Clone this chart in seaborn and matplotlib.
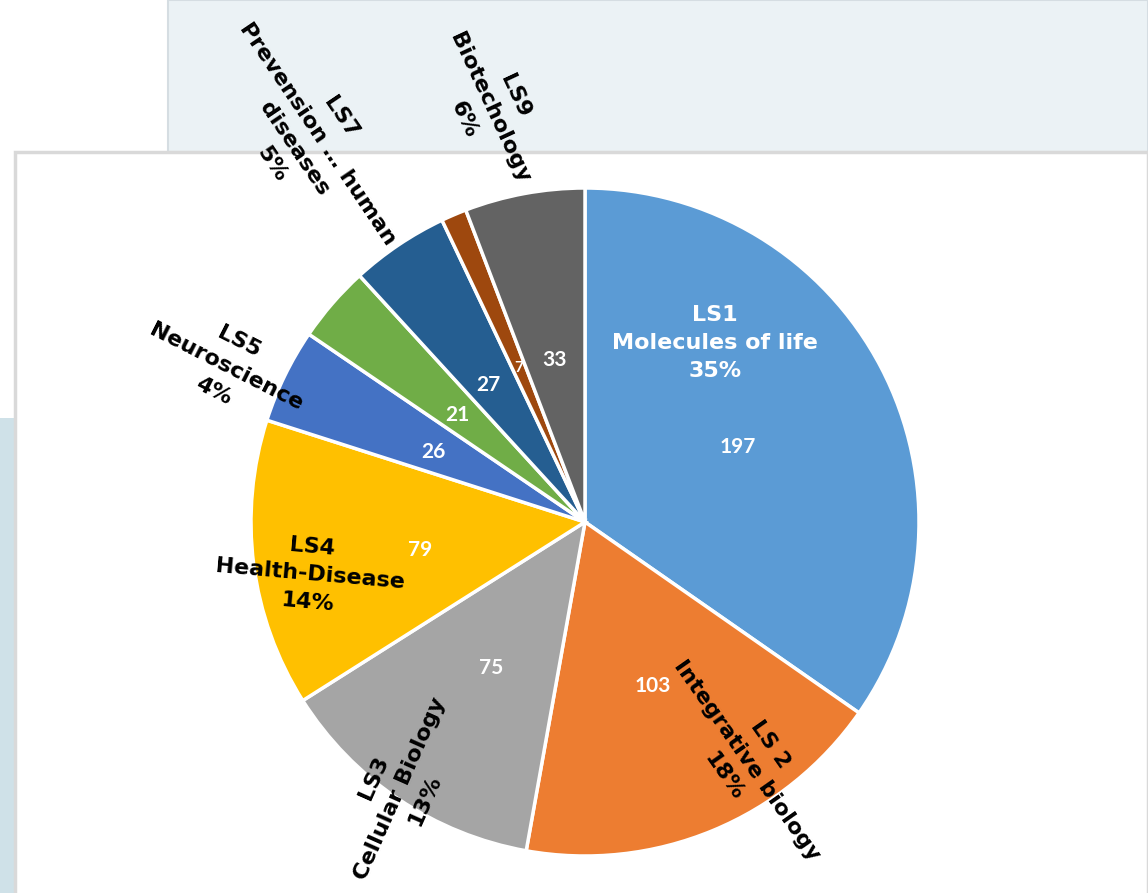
import numpy as np
import matplotlib
matplotlib.use('Agg')
import matplotlib.pyplot as plt
from matplotlib.patches import Rectangle
import seaborn as sns

# -----------------------------
# DATA
# -----------------------------
codes = ['LS1', 'LS 2', 'LS3', 'LS4', 'LS5', 'LS6', 'LS7', 'LS8', 'LS9']
names = ['Molecules of life', 'Integrative biology', 'Cellular Biology',
         'Health-Disease', 'Neuroscience', '', 'Prevension … human\ndiseases',
         '', 'Biotechology']
counts = [197, 103, 75, 79, 26, 21, 27, 7, 33]
pct_labels = ['35%', '18%', '13%', '14%', '4%', '', '5%', '', '6%']
colors = ['#5B9BD5', '#ED7D31', '#A5A5A5', '#FFC000', '#4472C4',
          '#70AD47', '#255E91', '#9E480E', '#636363']

# -----------------------------
# STYLE
# -----------------------------
sns.set_theme(style='white')
plt.rcParams['font.family'] = ['DejaVu Sans']

W, H = 1148, 893
cx, cy, R = 585, 522, 334   # pie centre / radius in pixels

fig = plt.figure(figsize=(W / 100, H / 100), dpi=100)
fig.patch.set_facecolor('white')

def px(x0, y0, w, h):
    # pixel box (top-left origin) -> figure fraction
    return (x0 / W, 1 - (y0 + h) / H), w / W, h / H

# background slide panels
(xy, w, h) = px(168, 0, W - 168, 152)
fig.patches.append(Rectangle(xy, w, h, transform=fig.transFigure, zorder=-3,
                             facecolor='#ebf2f5', edgecolor='#d5dde2', lw=1.5))
(xy, w, h) = px(0, 418, 16, H - 418)
fig.patches.append(Rectangle(xy, w, h, transform=fig.transFigure, zorder=-3,
                             facecolor='#cfe1e8', edgecolor='none'))
(xy, w, h) = px(15, 152, W - 15, H - 152 + 5)
fig.patches.append(Rectangle(xy, w, h, transform=fig.transFigure, zorder=-2,
                             facecolor='white', edgecolor='#d9d9d9', lw=2.5))

ax = fig.add_axes([0, 0, 1, 1])
ax.set_zorder(5)
ax.set_facecolor('none')
ax.patch.set_alpha(0)

wedges, _ = ax.pie(counts, colors=colors, startangle=90, counterclock=False,
                   radius=1.0,
                   wedgeprops=dict(edgecolor='white', linewidth=2.5))

ax.set_xlim(-cx / R, (W - cx) / R)
ax.set_ylim((cy - H) / R, cy / R)
ax.set_aspect('auto')
ax.axis('off')

# value labels (white) inside slices
val_pos = [(0.458, 0.225), (0.204, -0.491), (-0.281, -0.437), (-0.494, -0.084),
           (-0.455, 0.210), (-0.383, 0.320), (-0.290, 0.410), (-0.198, 0.461),
           (-0.090, 0.485)]
val_size = [15, 15, 15, 15, 15, 15, 15, 11, 15]
for v, (x, y), fs in zip(counts, val_pos, val_size):
    ax.text(x, y, str(v), color='white', fontsize=fs, fontweight='bold',
            family=['Lato', 'DejaVu Sans'], ha='center', va='center')

# category labels
cat_pos = {
    0: ((0.389, 0.535), 0, 'white'),
    1: ((0.485, -0.715), -55, 'black'),
    2: ((-0.555, -0.800), 66, 'black'),
    3: ((-0.823, -0.158), -5, 'black'),
    4: ((-1.075, 0.465), -27, 'black'),
    6: ((-0.835, 1.140), -56, 'black'),
    8: ((-0.285, 1.240), -65, 'black'),
}
for i, ((x, y), rot, col) in cat_pos.items():
    txt = f'{codes[i]}\n{names[i]}\n{pct_labels[i]}'
    ax.text(x, y, txt, color=col, fontsize=16, fontweight='bold',
            ha='center', va='center', rotation=rot, rotation_mode='anchor',
            linespacing=1.5, clip_on=False)

fig.savefig('out.png', dpi=100)
